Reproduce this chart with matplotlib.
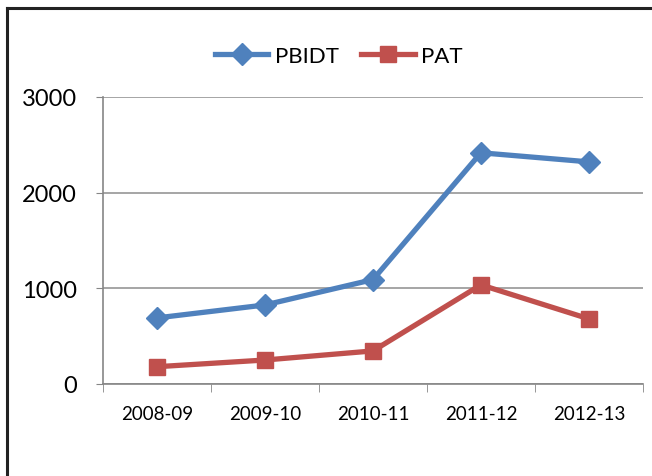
import matplotlib.pyplot as plt
from matplotlib.lines import Line2D

years = ["2008-09", "2009-10", "2010-11", "2011-12", "2012-13"]
pbidt = [690, 825, 1090, 2415, 2320]
pat = [180, 250, 345, 1035, 680]

plt.rcParams['font.family'] = ['Lato', 'DejaVu Sans']

fig = plt.figure(figsize=(6.52, 4.77), dpi=100)
ax = fig.add_axes([0.158, 0.193, 0.828, 0.602])

x = range(len(years))
ax.plot(x, pbidt, color="#4F81BD", lw=3.8, marker="D", markersize=11, label="PBIDT")
ax.plot(x, pat, color="#C0504D", lw=3.8, marker="s", markersize=12, label="PAT")

ax.set_xlim(-0.5, len(years) - 0.5)
ax.set_ylim(0, 3000)
ax.set_yticks([0, 1000, 2000, 3000])
ax.tick_params(axis="y", labelsize=17, length=5, color="#868686", pad=14)
ax.set_xticks(list(x))
ax.set_xticklabels(years, fontsize=13.5)
ax.tick_params(axis="x", length=0, pad=15)
ax.set_xticks([i - 0.5 for i in range(len(years) + 1)], minor=True)
ax.tick_params(axis="x", which="minor", length=6, color="#868686")

ax.grid(axis="y", color="#969696", lw=1.2)
ax.set_axisbelow(True)
for s in ["top", "right"]:
    ax.spines[s].set_visible(False)
for s in ["left", "bottom"]:
    ax.spines[s].set_color("#868686")
    ax.spines[s].set_linewidth(1.2)

handles = [
    Line2D([], [], color="#4F81BD", lw=3.8, marker="D", markersize=11),
    Line2D([], [], color="#C0504D", lw=3.8, marker="s", markersize=12),
]
fig.legend(handles, ["PBIDT", "PAT"], loc="center", bbox_to_anchor=(0.52, 0.88),
           ncol=2, frameon=False, fontsize=16, handlelength=2.4, columnspacing=1.0,
           handletextpad=0.3)

# outer frame (top and left edges visible)
fig.add_artist(Line2D([0.011, 1.0], [0.981, 0.981], color="#222222", lw=2.2))
fig.add_artist(Line2D([0.011, 0.011], [0.0, 0.981], color="#222222", lw=2.2))

fig.savefig("out.png", dpi=100)
